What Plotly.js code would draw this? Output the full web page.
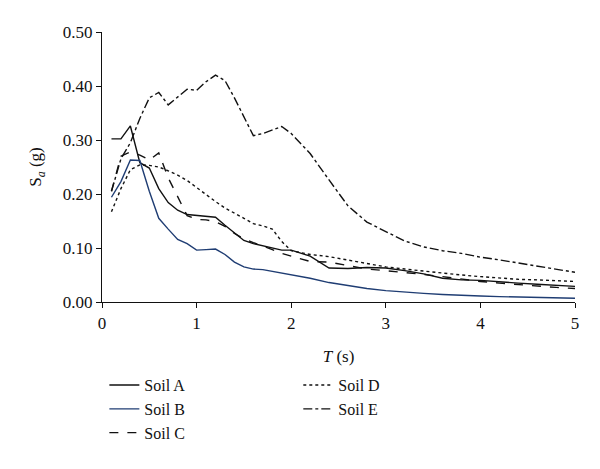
<!DOCTYPE html>
<html>
<head>
<meta charset="utf-8">
<script src="https://cdn.plot.ly/plotly-3.0.1.min.js"></script>
<style>html,body{margin:0;padding:0;background:#fff;}#chart{width:600px;height:469px;}</style>
</head>
<body>
<div id="chart"></div>
<script>
var periods = [0.1,0.2,0.3,0.4,0.5,0.6,0.7,0.8,0.9,1.0,1.1,1.2,1.3,1.4,1.5,1.6,1.7,1.8,1.9,2.0,2.2,2.4,2.6,2.8,3.0,3.2,3.4,3.6,3.8,4.0,4.2,4.4,4.6,4.8,5.0];
var soilA = [0.302,0.302,0.326,0.258,0.248,0.210,0.184,0.170,0.162,0.160,0.158,0.157,0.142,0.128,0.114,0.108,0.104,0.100,0.096,0.096,0.085,0.063,0.062,0.064,0.063,0.058,0.052,0.044,0.041,0.040,0.037,0.035,0.033,0.031,0.029];
var soilB = [0.194,0.223,0.263,0.262,0.205,0.155,0.135,0.116,0.108,0.096,0.097,0.098,0.088,0.074,0.065,0.061,0.060,0.057,0.054,0.051,0.044,0.036,0.030,0.025,0.021,0.018,0.016,0.014,0.012,0.011,0.010,0.009,0.009,0.008,0.007];
var soilC = [0.205,0.270,0.278,0.272,0.263,0.276,0.230,0.195,0.160,0.153,0.152,0.149,0.140,0.127,0.117,0.110,0.104,0.097,0.090,0.085,0.075,0.074,0.067,0.061,0.058,0.055,0.051,0.047,0.042,0.038,0.035,0.032,0.029,0.027,0.025];
var soilD = [0.167,0.210,0.245,0.254,0.253,0.250,0.243,0.235,0.225,0.212,0.198,0.186,0.174,0.165,0.155,0.145,0.141,0.135,0.112,0.095,0.088,0.084,0.078,0.071,0.065,0.061,0.057,0.053,0.050,0.047,0.044,0.042,0.041,0.039,0.038];
var soilE = [0.205,0.265,0.295,0.340,0.378,0.388,0.365,0.380,0.394,0.392,0.408,0.420,0.410,0.378,0.342,0.308,0.312,0.318,0.325,0.312,0.275,0.226,0.178,0.148,0.130,0.113,0.102,0.095,0.090,0.083,0.078,0.072,0.066,0.060,0.055];
var seriesNames = ["Soil A","Soil B","Soil C","Soil D","Soil E"];

var FONT = "Liberation Serif, Times New Roman, serif";
var traces = [
  {x: periods, y: soilA, name: seriesNames[0], mode: "lines", line: {color: "#111111", width: 1.4, dash: "solid"}, legend: "legend"},
  {x: periods, y: soilB, name: seriesNames[1], mode: "lines", line: {color: "#1f3d73", width: 1.4, dash: "solid"}, legend: "legend"},
  {x: periods, y: soilC, name: seriesNames[2], mode: "lines", line: {color: "#111111", width: 1.4, dash: "dash"}, legend: "legend"},
  {x: periods, y: soilD, name: seriesNames[3], mode: "lines", line: {color: "#111111", width: 1.4, dash: "dot"}, legend: "legend2"},
  {x: periods, y: soilE, name: seriesNames[4], mode: "lines", line: {color: "#111111", width: 1.4, dash: "dashdot"}, legend: "legend2"}
];

var layout = {
  width: 600, height: 469,
  margin: {l: 102, r: 25, t: 32, b: 167},
  paper_bgcolor: "#fff", plot_bgcolor: "#fff",
  font: {family: FONT, size: 17, color: "#111"},
  showlegend: true,
  xaxis: {
    range: [0, 5], dtick: 1, tick0: 0,
    showline: true, linecolor: "#111", linewidth: 1.2,
    ticks: "outside", ticklen: 5, tickcolor: "#111",
    showgrid: false, zeroline: false,
    tickfont: {family: FONT, size: 17},
    title: {text: "<i>T</i> (s)", font: {family: FONT, size: 17}, standoff: 18}
  },
  yaxis: {
    range: [0, 0.5], dtick: 0.1, tick0: 0, tickformat: ".2f",
    showline: true, linecolor: "#111", linewidth: 1.2,
    ticks: "outside", ticklen: 5, tickcolor: "#111",
    showgrid: false, zeroline: false,
    tickfont: {family: FONT, size: 17},
    title: {text: "S<sub><i>a</i></sub> (g)", font: {family: FONT, size: 17}, standoff: 16}
  },
  legend: {
    x: 0.005, y: -0.245, xanchor: "left", yanchor: "top",
    orientation: "v", bgcolor: "rgba(0,0,0,0)",
    font: {family: FONT, size: 16}, tracegroupgap: 0, itemwidth: 30
  },
  legend2: {
    x: 0.415, y: -0.245, xanchor: "left", yanchor: "top",
    orientation: "v", bgcolor: "rgba(0,0,0,0)",
    font: {family: FONT, size: 16}, tracegroupgap: 0, itemwidth: 30
  }
};

Plotly.newPlot("chart", traces, layout, {displayModeBar: false, staticPlot: true});
</script>
</body>
</html>
